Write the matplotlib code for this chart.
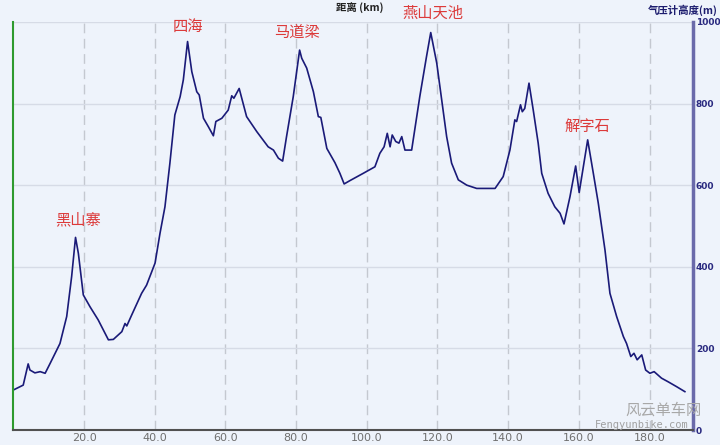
import matplotlib
matplotlib.use("Agg")
import matplotlib.pyplot as plt

plt.rcParams['font.family'] = ['Noto Sans CJK SC', 'DejaVu Sans']

# distance (km) and barometric altitude (m)
km = [0, 2.8, 4.2, 4.7, 6.1, 7.6, 9.0, 10.4, 13.2, 15.1, 16.5, 17.6, 18.4, 19.8,
      21.7, 24.0, 26.9, 28.3, 30.7, 31.6, 32.1, 33.5, 36.3, 37.7, 40.1, 41.5,
      42.9, 44.3, 45.7, 47.2, 48.1, 49.3, 50.5, 51.9, 52.6, 53.8, 55.2, 56.6,
      57.3, 59.0, 60.8, 61.8, 62.4, 63.9, 66.0, 68.9, 72.1, 73.6, 75.0, 76.2,
      77.3, 79.2, 81.0, 81.6, 83.0, 84.9, 86.3, 87.0, 88.7, 91.0, 92.4, 93.6,
      95.2, 99.0, 102.3, 103.7, 104.9, 105.8, 106.6, 107.2, 108.2, 109.1, 109.9,
      110.8, 112.7, 115.0, 116.9, 118.1, 119.8, 121.2, 122.6, 124.0, 125.9,
      128.3, 131.1, 133.9, 136.3, 138.6, 140.5, 141.9, 142.4, 143.5, 144.0,
      144.7, 145.9, 147.1, 148.5, 149.5, 151.3, 153.2, 154.7, 155.8, 157.5,
      159.1, 160.1, 162.5, 164.1, 165.5, 167.4, 168.8, 170.7, 172.6, 173.5,
      174.7, 175.6, 176.5, 177.8, 178.9, 180.1, 181.3, 183.4, 185.3, 187.7, 190.0]
elev = [98, 110, 162, 147, 140, 143, 139, 163, 212, 278, 376, 472, 433, 331,
        302, 270, 221, 222, 241, 261, 255, 282, 335, 355, 409, 482,
        547, 654, 772, 817, 858, 952, 878, 829, 821, 764, 743, 721,
        756, 764, 784, 819, 813, 837, 768, 731, 694, 686, 666, 659,
        719, 817, 931, 911, 887, 829, 768, 766, 690, 655, 629, 603,
        611, 629, 645, 678, 694, 727, 694, 723, 707, 703, 719,
        686, 686, 817, 915, 974, 899, 809, 719, 654, 613,
        600, 592, 592, 592, 621, 686, 760, 756, 797, 780,
        788, 850, 784, 703, 629, 580, 547, 531, 505, 572,
        647, 582, 711, 629, 556, 441, 335, 278, 229, 212,
        180, 188, 172, 184, 147, 139, 143, 127, 118, 106, 94]

peaks = ['黑山寨', '四海', '马道梁', '燕山天池', '解字石']
peak_km = [18.3, 49.4, 80.3, 118.7, 162.3]
peak_elev = [515, 990, 975, 1020, 745]

xticks = [20, 40, 60, 80, 100, 120, 140, 160, 180]
yticks = [0, 200, 400, 600, 800, 1000]

bg = '#eef3fb'
fig = plt.figure(figsize=(7.2, 4.45), dpi=100, facecolor=bg)
ax = fig.add_axes([0.0185, 0.0337, 0.944, 0.917], facecolor=bg)

ax.plot(km, elev, color='#1a1a78', lw=1.2)

ax.set_xlim(0, 192.3)
ax.set_ylim(0, 1000)
ax.set_xticks(xticks)
ax.set_xticklabels(['%.1f' % v for v in xticks], color='#707070', fontsize=8,
                   family='DejaVu Sans')
ax.set_yticks(yticks)
ax.yaxis.tick_right()
ax.set_yticklabels([str(v) for v in yticks], color='#2a2a80', fontsize=6.5,
                   fontweight='bold', family='DejaVu Sans')
ax.tick_params(axis='x', length=0, pad=2)
ax.tick_params(axis='y', length=0, pad=2)

ax.grid(axis='y', color='#d6dbe6', lw=1, ls='-')
ax.grid(axis='x', color='#c4c8d0', lw=1, ls=(0, (7, 4)))
ax.set_axisbelow(True)

ax.spines['top'].set_visible(False)
ax.spines['left'].set_color('#2e9a2e')
ax.spines['left'].set_linewidth(1.5)
ax.spines['right'].set_color('#6a6aaa')
ax.spines['right'].set_linewidth(2.5)
ax.spines['bottom'].set_color('#505050')
ax.spines['bottom'].set_linewidth(1.5)

for name, x, y in zip(peaks, peak_km, peak_elev):
    ax.text(x, y, name, color='#dc3a3a', fontsize=11, ha='center', va='center',
            clip_on=False)

fig.text(0.5, 0.982, '距离 (km)', ha='center', va='center', fontsize=7.5,
         fontweight='bold', color='#222222')
fig.text(0.997, 0.977, '气压计高度(m)', ha='right', va='center', fontsize=7.5,
         fontweight='bold', color='#1c1c6e')

fig.text(0.975, 0.078, '风云单车网', ha='right', va='center', fontsize=11,
         color='#a8a8a8')
fig.text(0.957, 0.045, 'Fengyunbike.com', ha='right', va='center', fontsize=7.5,
         color='#a0a0a0', family='DejaVu Sans Mono')

fig.savefig('out.png', dpi=100, facecolor=bg)
